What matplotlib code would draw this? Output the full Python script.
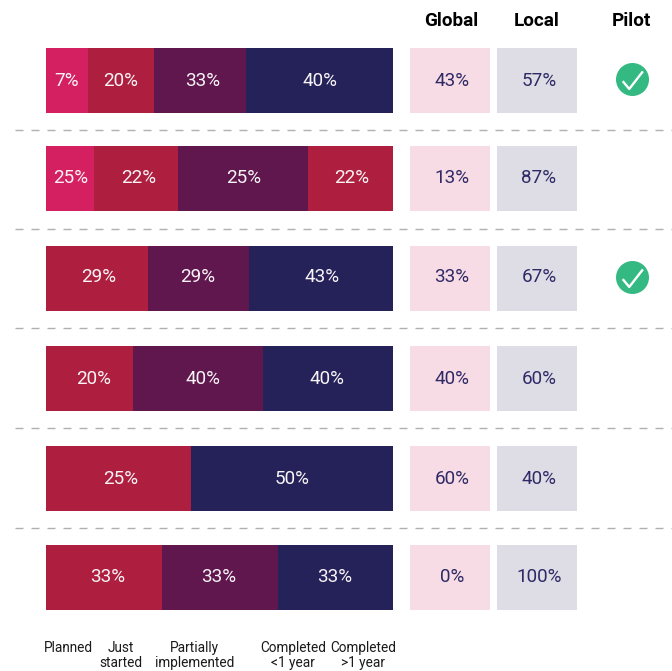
import matplotlib
matplotlib.use("Agg")
import matplotlib.pyplot as plt
from matplotlib.path import Path

plt.rcParams['font.family'] = ['Roboto', 'DejaVu Sans']

RED, PINK, PURPLE, NAVY = '#AE1F3F', '#D42060', '#5F174E', '#25225A'
# drawn share of each bar (px), printed label, colour
seg_widths = [[42, 66, 92, 147], [48, 84, 130, 85], [102, 101, 144], [87, 130, 130], [145, 202], [116, 116, 115]]
seg_labels = [['7%', '20%', '33%', '40%'], ['25%', '22%', '25%', '22%'], ['29%', '29%', '43%'],
              ['20%', '40%', '40%'], ['25%', '50%'], ['33%', '33%', '33%']]
seg_colors = [[PINK, RED, PURPLE, NAVY], [PINK, RED, PURPLE, RED], [RED, PURPLE, NAVY],
              [RED, PURPLE, NAVY], [RED, NAVY], [RED, PURPLE, NAVY]]
seg_label_x = [[66.5, 121, 203, 320], [70.5, 138.5, 244, 352], [99, 197.5, 322.5], [93.5, 203, 327.5], [120.5, 292], [108, 219, 335]]
global_vals = ['43%', '13%', '33%', '40%', '60%', '0%']
local_vals = ['57%', '87%', '67%', '60%', '40%', '100%']
pilot = [True, False, True, False, False, False]
legend_labels = ['Planned', 'Just\nstarted', 'Partially\nimplemented', 'Completed\n<1 year', 'Completed\n>1 year']

row_top = [48, 146, 246, 346, 446, 545]
row_h = 65
text_y = [80.5, 178, 277.5, 378.5, 478.5, 577.5]
sep_y = [129.5, 228.5, 328, 428, 528]
legend_x = [68, 120.5, 194.5, 293, 363]

fig = plt.figure(figsize=(6.72, 6.71), dpi=100)
ax = fig.add_axes([0, 0, 1, 1])
ax.set_xlim(0, 672)
ax.set_ylim(671, 0)
ax.axis('off')

for y in sep_y:
    ax.plot([15, 672], [y, y], color='#B0B0B0', lw=1.0, dashes=(5.76, 5.76), zorder=1)

check = Path([(-7.5, -0.5), (-2.5, -6.5), (8, 7)], [Path.MOVETO, Path.LINETO, Path.LINETO])

for top, widths, labels, lx, colors, g, l, p, ty in zip(row_top, seg_widths, seg_labels, seg_label_x, seg_colors,
                                                       global_vals, local_vals, pilot, text_y):
    mid = top + row_h / 2
    left = 46
    for w, lab, x, c in zip(widths, labels, lx, colors):
        ax.barh(mid, w, height=row_h, left=left, color=c, lw=0, zorder=2)
        ax.text(x, ty, lab, color='#F8F4F6', fontsize=13.6, ha='center', va='center', zorder=3)
        left += w
    ax.barh(mid, 80, height=row_h, left=410, color='#F7DBE5', lw=0, zorder=2)
    ax.barh(mid, 80, height=row_h, left=497, color='#DEDDE6', lw=0, zorder=2)
    ax.text(452, ty, g, color='#2F2A66', fontsize=13.6, ha='center', va='center', zorder=3)
    ax.text(539, ty, l, color='#2F2A66', fontsize=13.6, ha='center', va='center', zorder=3)
    if p:
        ax.scatter([631.5], [mid - 1.5], s=(33 * 0.72) ** 2, color='#35B983', lw=0, zorder=3)
        ax.plot([631.5], [mid - 1], marker=check, ms=15, mfc='none', mec='white', mew=1.7, zorder=4)

for x, t in zip([451, 537, 631], ['Global', 'Local', 'Pilot']):
    ax.text(x, 20.5, t, color='black', fontsize=13.6, fontweight='bold', ha='center', va='center')

for x, t in zip(legend_x, legend_labels):
    ax.text(x, 641, t, color='#1A1A1A', fontsize=9.8, ha='center', va='top', linespacing=1.1)

fig.savefig('out.png', dpi=100)
